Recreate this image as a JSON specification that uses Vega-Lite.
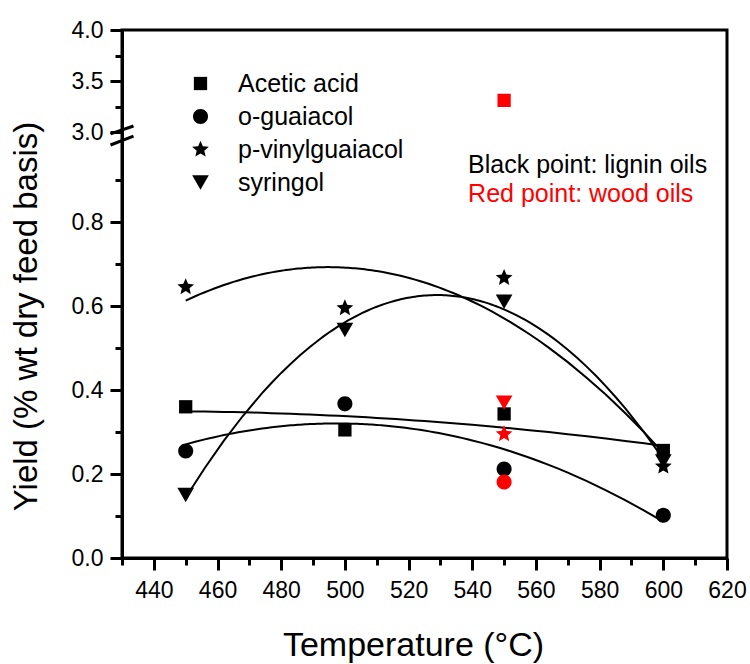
{
  "$schema": "https://vega.github.io/schema/vega-lite/v6.json",
  "width": 605,
  "height": 528,
  "autosize": {"type": "none"},
  "padding": {"left": 122, "top": 30, "right": 23, "bottom": 106},
  "background": "white",
  "config": {
    "view": {"stroke": "black", "strokeWidth": 3},
    "font": "Liberation Sans"
  },
  "datasets": {
    "points": [
      {"temp": 450, "yield": 0.36, "compound": "Acetic acid", "oil": "lignin"},
      {"temp": 500, "yield": 0.305, "compound": "Acetic acid", "oil": "lignin"},
      {"temp": 550, "yield": 0.343, "compound": "Acetic acid", "oil": "lignin"},
      {"temp": 600, "yield": 0.256, "compound": "Acetic acid", "oil": "lignin"},
      {"temp": 450, "yield": 0.255, "compound": "o-guaiacol", "oil": "lignin"},
      {"temp": 500, "yield": 0.367, "compound": "o-guaiacol", "oil": "lignin"},
      {"temp": 550, "yield": 0.212, "compound": "o-guaiacol", "oil": "lignin"},
      {"temp": 600, "yield": 0.102, "compound": "o-guaiacol", "oil": "lignin"},
      {"temp": 450, "yield": 0.645, "compound": "p-vinylguaiacol", "oil": "lignin"},
      {"temp": 500, "yield": 0.595, "compound": "p-vinylguaiacol", "oil": "lignin"},
      {"temp": 550, "yield": 0.667, "compound": "p-vinylguaiacol", "oil": "lignin"},
      {"temp": 600, "yield": 0.218, "compound": "p-vinylguaiacol", "oil": "lignin"},
      {"temp": 450, "yield": 0.15, "compound": "syringol", "oil": "lignin"},
      {"temp": 500, "yield": 0.543, "compound": "syringol", "oil": "lignin"},
      {"temp": 550, "yield": 0.61, "compound": "syringol", "oil": "lignin"},
      {"temp": 600, "yield": 0.23, "compound": "syringol", "oil": "lignin"},
      {"temp": 550, "yield": 3.31, "compound": "Acetic acid", "oil": "wood"},
      {"temp": 550, "yield": 0.181, "compound": "o-guaiacol", "oil": "wood"},
      {"temp": 550, "yield": 0.295, "compound": "p-vinylguaiacol", "oil": "wood"},
      {"temp": 550, "yield": 0.37, "compound": "syringol", "oil": "wood"}
    ],
    "notes": [
      {"temp": 538.7, "yield": 0.917, "note": "Black point: lignin oils", "oil": "lignin"},
      {"temp": 538.7, "yield": 0.848, "note": "Red point: wood oils", "oil": "wood"}
    ],
    "brk": [
      {"temp": 430, "yield": 3.0}
    ]
  },
  "encoding": {
    "x": {
      "field": "temp",
      "type": "quantitative",
      "scale": {"domain": [430, 620], "nice": false, "zero": false},
      "axis": {
        "title": "Temperature (°C)",
        "values": [430, 440, 450, 460, 470, 480, 490, 500, 510, 520, 530, 540, 550, 560, 570, 580, 590, 600, 610, 620],
        "labelExpr": "datum.value % 20 == 0 ? datum.label : ''",
        "format": "d",
        "tickSize": {"condition": {"test": "datum.value % 20 == 0", "value": 12}, "value": 7},
        "tickWidth": 3,
        "tickColor": "black",
        "domainColor": "black",
        "domainWidth": 3,
        "grid": false,
        "labelFont": "Liberation Sans",
        "labelFontSize": 23,
        "labelColor": "black",
        "labelPadding": 9,
        "labelFlush": false,
        "labelOverlap": false,
        "titleFont": "Liberation Sans",
        "titleFontSize": 34,
        "titleFontWeight": "normal",
        "titleColor": "black",
        "titleX": 291,
        "titleY": 97,
        "titleAlign": "center",
        "titleBaseline": "alphabetic"
      }
    },
    "y": {
      "field": "yield",
      "type": "quantitative",
      "scale": {"domain": [0, 1, 3, 4], "range": [528, 108, 102, 0], "nice": false, "zero": false},
      "axis": {
        "title": "Yield (% wt dry feed basis)",
        "values": [0, 0.1, 0.2, 0.3, 0.4, 0.5, 0.6, 0.7, 0.8, 0.9, 3, 3.25, 3.5, 3.75, 4],
        "labelExpr": "indexof([0, 0.2, 0.4, 0.6, 0.8, 3, 3.5, 4], datum.value) >= 0 ? datum.label : ''",
        "format": ".1f",
        "tickSize": {"condition": {"test": "indexof([0, 0.2, 0.4, 0.6, 0.8, 3, 3.5, 4], datum.value) >= 0", "value": 12}, "value": 7},
        "tickWidth": 3,
        "tickColor": "black",
        "domainColor": "black",
        "domainWidth": 3,
        "grid": false,
        "labelFont": "Liberation Sans",
        "labelFontSize": 23,
        "labelColor": "black",
        "labelPadding": 7,
        "labelFlush": false,
        "labelOverlap": false,
        "titleFont": "Liberation Sans",
        "titleFontSize": 33,
        "titleFontWeight": "normal",
        "titleColor": "black",
        "titleX": -86,
        "titleY": 286,
        "titleAlign": "center",
        "titleBaseline": "alphabetic"
      }
    }
  },
  "layer": [
    {
      "data": {"name": "points"},
      "transform": [
        {"filter": "datum.oil == 'lignin'"},
        {"regression": "yield", "on": "temp", "groupby": ["compound"], "method": "poly", "order": 2, "extent": [450, 600]}
      ],
      "mark": {"type": "line", "color": "black", "strokeWidth": 2},
      "encoding": {"detail": {"field": "compound", "type": "nominal"}}
    },
    {
      "data": {"name": "points"},
      "mark": {"type": "point", "filled": true, "size": 256, "opacity": 1, "strokeWidth": 0},
      "encoding": {
        "shape": {
          "field": "compound",
          "type": "nominal",
          "scale": {
            "domain": ["Acetic acid", "o-guaiacol", "p-vinylguaiacol", "syringol"],
            "range": [
              "M-0.83,-0.83L0.83,-0.83L0.83,0.83L-0.83,0.83Z",
              "M-0.94,0A0.94,0.94,0,1,1,0.94,0A0.94,0.94,0,1,1,-0.94,0Z",
              "M0,-1.1L0.2939,-0.4045L1.0462,-0.3399L0.4755,0.1545L0.6466,0.8899L0,0.5L-0.6466,0.8899L-0.4755,0.1545L-1.0462,-0.3399L-0.2939,-0.4045Z",
              "M-1.04,-0.9L1.04,-0.9L0,0.9Z"
            ]
          },
          "legend": {
            "title": null,
            "orient": "none",
            "legendX": 66,
            "legendY": 41,
            "padding": 0,
            "labelFont": "Liberation Sans",
            "labelFontSize": 25,
            "labelColor": "black",
            "labelOffset": 25,
            "labelLimit": 400,
            "rowPadding": 7,
            "symbolSize": 256,
            "symbolFillColor": "black",
            "symbolStrokeColor": "black",
            "symbolStrokeWidth": 0,
            "symbolOpacity": 1
          }
        },
        "color": {
          "field": "oil",
          "type": "nominal",
          "scale": {"domain": ["lignin", "wood"], "range": ["#000000", "#ff0000"]},
          "legend": null
        }
      }
    },
    {
      "data": {"name": "brk"},
      "mark": {"type": "point", "shape": "M-1,0.17L1,-0.52M-1,1.13L1,0.35", "filled": false, "size": 529, "strokeWidth": 3, "color": "black", "opacity": 1, "clip": false}
    },
    {
      "data": {"name": "notes"},
      "mark": {"type": "text", "align": "left", "baseline": "alphabetic", "fontSize": 25, "font": "Liberation Sans"},
      "encoding": {
        "text": {"field": "note", "type": "nominal"},
        "color": {"field": "oil", "type": "nominal", "legend": null}
      }
    }
  ]
}
